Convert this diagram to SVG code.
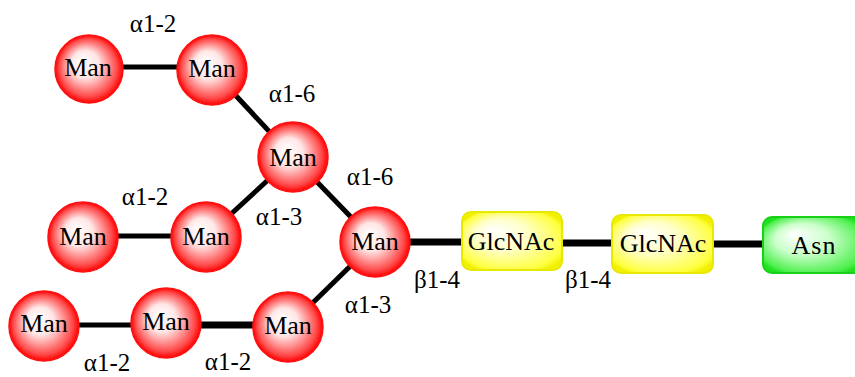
<svg xmlns="http://www.w3.org/2000/svg" width="855" height="377" viewBox="0 0 855 377">
<defs>
<radialGradient id="gRed" cx="0.5" cy="0.5" r="0.5" fx="0.4" fy="0.38">
<stop offset="0" stop-color="#ffffff"/>
<stop offset="0.4" stop-color="#ffe6e6"/>
<stop offset="0.85" stop-color="#ff4a4a"/>
<stop offset="1" stop-color="#ff0000"/>
</radialGradient>
<radialGradient id="gYel" cx="0.5" cy="0.5" r="0.6" fx="0.3" fy="0.3">
<stop offset="0" stop-color="#ffffff"/>
<stop offset="0.45" stop-color="#ffffc8"/>
<stop offset="0.9" stop-color="#ffff40"/>
<stop offset="1" stop-color="#f0f000"/>
</radialGradient>
<radialGradient id="gGrn" cx="0.5" cy="0.5" r="0.6" fx="0.3" fy="0.3">
<stop offset="0" stop-color="#ffffff"/>
<stop offset="0.45" stop-color="#ccffcc"/>
<stop offset="0.9" stop-color="#50f050"/>
<stop offset="1" stop-color="#20e020"/>
</radialGradient>
</defs>
<style>
.e{stroke:#000;stroke-width:5;fill:none}
.ew{stroke:#000;stroke-width:7;fill:none}
.man{fill:url(#gRed);stroke:#ff1010;stroke-width:1.5}
.glc{fill:url(#gYel);stroke:#e8e800;stroke-width:2}
.asn{fill:url(#gGrn);stroke:#18d018;stroke-width:2}
.t{font-family:"Liberation Serif","Times New Roman",serif;font-size:26px;fill:#000;text-anchor:middle}
.l{font-family:"Liberation Serif","Times New Roman",serif;font-size:25px;fill:#000;text-anchor:middle}
</style>
<g id="connectors">
<line class="e" x1="89" y1="67" x2="212" y2="67"/>
<line class="e" x1="212" y1="70" x2="293" y2="157"/>
<line class="e" x1="293" y1="157" x2="375" y2="242"/>
<line class="e" x1="83" y1="236" x2="206" y2="236"/>
<line class="e" x1="206" y1="237" x2="293" y2="157"/>
<line class="e" x1="375" y1="242" x2="288" y2="327"/>
<line class="e" x1="44" y1="325" x2="166" y2="325"/>
<line class="ew" x1="166" y1="325" x2="288" y2="325"/>
<line class="ew" x1="375" y1="242" x2="512" y2="242"/>
<line class="ew" x1="512" y1="243" x2="662" y2="243"/>
<line class="ew" x1="662" y1="244" x2="808" y2="244"/>
</g>
<g id="labels">
<text class="l" x="153" y="32">α1-2</text>
<text class="l" x="292" y="102">α1-6</text>
<text class="l" x="370" y="185">α1-6</text>
<text class="l" x="145" y="205">α1-2</text>
<text class="l" x="279" y="225">α1-3</text>
<text class="l" x="437" y="288">β1-4</text>
<text class="l" x="588" y="288">β1-4</text>
<text class="l" x="368" y="313">α1-3</text>
<text class="l" x="107" y="371">α1-2</text>
<text class="l" x="228" y="370">α1-2</text>
</g>
<g id="manA"><circle class="man" cx="89" cy="69" r="34"/><text class="t" x="88" y="76">Man</text></g>
<g id="manB"><circle class="man" cx="212" cy="70" r="35"/><text class="t" x="212" y="77">Man</text></g>
<g id="manC"><circle class="man" cx="293" cy="157" r="35"/><text class="t" x="293" y="166">Man</text></g>
<g id="manD"><circle class="man" cx="83" cy="237" r="35"/><text class="t" x="83" y="245">Man</text></g>
<g id="manE"><circle class="man" cx="206" cy="237" r="35"/><text class="t" x="206" y="245">Man</text></g>
<g id="manF"><circle class="man" cx="375" cy="242" r="35"/><text class="t" x="375" y="250">Man</text></g>
<g id="manG"><circle class="man" cx="44" cy="326" r="35"/><text class="t" x="44" y="332">Man</text></g>
<g id="manH"><circle class="man" cx="166" cy="323" r="35"/><text class="t" x="166" y="330">Man</text></g>
<g id="manI"><circle class="man" cx="288" cy="327" r="35"/><text class="t" x="288" y="334">Man</text></g>
<g id="glcnac1"><rect class="glc" x="462" y="212" width="100" height="58" rx="9"/><text class="t" x="511" y="250">GlcNAc</text></g>
<g id="glcnac2"><rect class="glc" x="612" y="215" width="101" height="58" rx="9"/><text class="t" x="663" y="252">GlcNAc</text></g>
<g id="asn"><rect class="asn" x="763" y="217" width="100" height="56" rx="9"/><text class="t" x="814" y="254" letter-spacing="1">Asn</text></g>
</svg>
